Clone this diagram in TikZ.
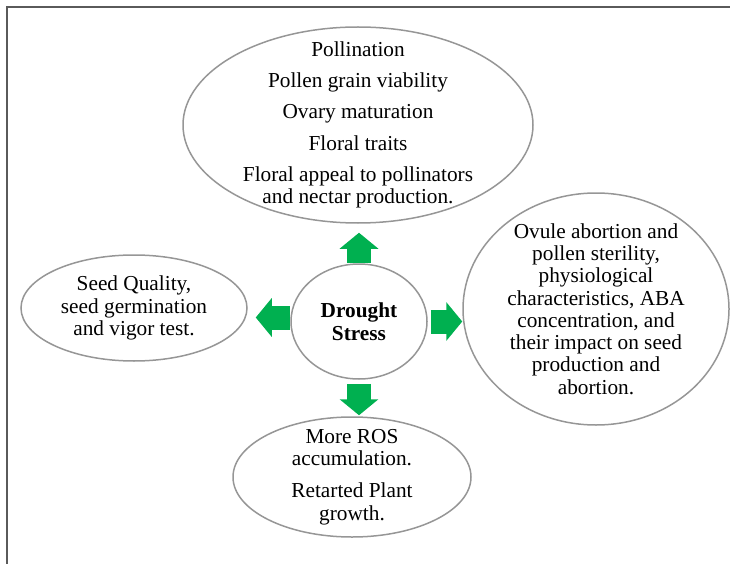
\documentclass[tikz,border=0pt]{standalone}
\usepackage{fontspec}
\setmainfont{Liberation Serif}
\usetikzlibrary{shapes.geometric,arrows.meta}
\definecolor{ringgray}{RGB}{150,150,150}
\definecolor{framegray}{RGB}{90,90,90}
\definecolor{arrowgreen}{RGB}{0,176,80}
\tikzset{
  bubble/.style={ellipse,draw=ringgray,line width=1.5pt,inner sep=0pt},
  txt/.style={align=center,inner sep=0pt,font=\fontsize{21.3}{22.3}\selectfont},
  blockarrow/.style={draw=arrowgreen,line width=24pt,-{Triangle[length=16pt,width=38pt]}}
}
\begin{document}
\begin{tikzpicture}[x=1pt,y=-1pt]
  \useasboundingbox (0,0) rectangle (730,564);
  \draw[framegray,line width=2pt] (7,564) -- (7,7) -- (730,7);
  % ellipses
  \node[bubble,minimum width=350pt,minimum height=196pt] (top) at (358,125) {};
  \node[bubble,minimum width=226pt,minimum height=106pt] (seed) at (134,308) {};
  \node[bubble,minimum width=136pt,minimum height=115pt] (drought) at (359,321.5) {};
  \node[bubble,minimum width=266pt,minimum height=232pt] (ovule) at (596,309) {};
  \node[bubble,minimum width=238pt,minimum height=120pt] (ros) at (352,477) {};
  % texts
  \node[txt] (topT) at (top) {Pollination\\[9pt] Pollen grain viability\\[9pt] Ovary maturation\\[9pt] Floral traits\\[9pt] Floral appeal to pollinators\\ and nectar production.};
  \node[txt] (seedT) at (seed) {Seed Quality,\\ seed germination\\ and vigor test.};
  \node[txt,font=\fontsize{21.3}{23}\selectfont\bfseries] (droughtT) at (drought) {Drought\\ Stress};
  \node[txt] (ovuleT) at (ovule) {Ovule abortion and\\ pollen sterility,\\ physiological\\ characteristics, ABA\\ concentration, and\\ their impact on seed\\ production and\\ abortion.};
  \node[txt] (rosT) at (ros) {More ROS\\ accumulation.\\[10pt] Retarted Plant\\ growth.};
  % arrows
  \draw[blockarrow,shorten >=9pt] (drought.north) -- (drought.north |- top.south);
  \draw[blockarrow,shorten >=8pt] ([yshift=4pt]drought.west) -- ([yshift=4pt]drought.west -| seed.east);
  \draw[blockarrow,shorten <=3pt] (drought.east) -- (drought.east -| ovule.west);
  \draw[blockarrow,shorten <=4pt,shorten >=1pt] (drought.south) -- (drought.south |- ros.north);
\end{tikzpicture}
\end{document}
